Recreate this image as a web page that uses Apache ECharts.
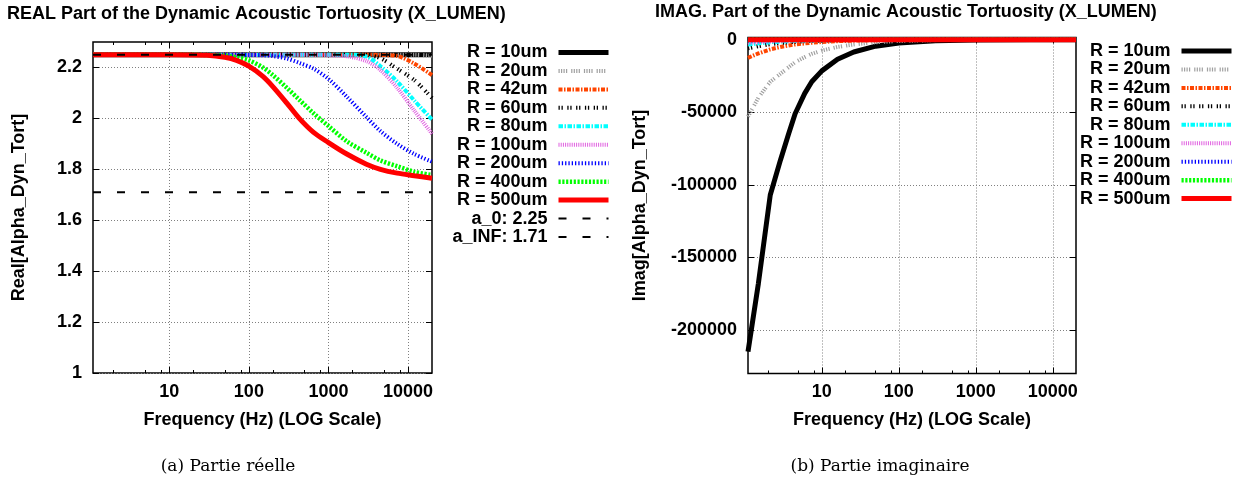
<!DOCTYPE html>
<html>
<head>
<meta charset="utf-8">
<script src="https://cdn.jsdelivr.net/npm/echarts@6/dist/echarts.min.js"></script>
<style>
  html, body { margin: 0; padding: 0; background: #fff; }
  #chart { width: 1245px; height: 484px; }
</style>
</head>
<body>
<div id="chart"></div>
<script>
// ---- data ----
const seriesNames = ["R = 10um", "R = 20um", "R = 42um", "R = 60um", "R = 80um",
  "R = 100um", "R = 200um", "R = 400um", "R = 500um"];

// (a) real part, frequencies in Hz
const realFreq = [1.1, 10, 30, 50, 70, 100, 150, 200, 300, 430, 650, 1000, 1700, 3000, 4500, 7300, 12000, 20000];
const realR10  = [2.25, 2.25, 2.25, 2.25, 2.25, 2.25, 2.25, 2.25, 2.25, 2.25, 2.25, 2.25, 2.25, 2.25, 2.25, 2.25, 2.25, 2.25];
const realR20  = [2.25, 2.25, 2.25, 2.25, 2.25, 2.25, 2.25, 2.25, 2.25, 2.25, 2.25, 2.25, 2.25, 2.25, 2.25, 2.25, 2.25, 2.246];
const realR42  = [2.25, 2.25, 2.25, 2.25, 2.25, 2.25, 2.25, 2.25, 2.25, 2.25, 2.25, 2.25, 2.25, 2.25, 2.249, 2.245, 2.215, 2.17];
const realR60  = [2.25, 2.25, 2.25, 2.25, 2.25, 2.25, 2.25, 2.25, 2.25, 2.25, 2.25, 2.25, 2.25, 2.249, 2.236, 2.195, 2.15, 2.08];
const realR80  = [2.25, 2.25, 2.25, 2.25, 2.25, 2.25, 2.25, 2.25, 2.25, 2.25, 2.25, 2.25, 2.25, 2.243, 2.205, 2.145, 2.07, 1.995];
const realR100 = [2.25, 2.25, 2.25, 2.25, 2.25, 2.25, 2.25, 2.25, 2.25, 2.25, 2.25, 2.248, 2.244, 2.225, 2.19, 2.12, 2.03, 1.94];
const realR200 = [2.25, 2.25, 2.25, 2.25, 2.25, 2.249, 2.248, 2.245, 2.235, 2.218, 2.195, 2.155, 2.085, 2.005, 1.95, 1.9, 1.86, 1.83];
const realR400 = [2.25, 2.25, 2.249, 2.246, 2.24, 2.228, 2.2, 2.17, 2.12, 2.073, 2.02, 1.97, 1.91, 1.865, 1.835, 1.812, 1.79, 1.778];
const realR500 = [2.25, 2.25, 2.248, 2.24, 2.228, 2.205, 2.165, 2.125, 2.06, 2.0, 1.945, 1.905, 1.86, 1.82, 1.8, 1.785, 1.775, 1.765];
const alpha0 = 2.25;
const alphaInf = 1.71;

// (b) imaginary part
const imagFreq = [1.1, 1.5, 2.14, 2.9, 3.7, 4.5, 6, 7.4, 10, 16, 26, 50, 100, 300, 1000, 5000, 20000];
const imagR10  = [-215000, -168000, -107000, -83000, -65000, -51000, -37000, -29000, -21500, -13500, -8500, -4500, -2300, -800, -250, -60, -20];
const imagR20  = [-53000, -40000, -29000, -23500, -19000, -15500, -12000, -9800, -7500, -5000, -3300, -1800, -900, -300, -100, -25, -8];
const imagR42  = [-12500, -9500, -6700, -5000, -4000, -3300, -2600, -2100, -1600, -1000, -650, -330, -160, -55, -18, -4, -1];
const imagR60  = [-6000, -4500, -3100, -2300, -1800, -1500, -1100, -900, -680, -420, -260, -135, -70, -23, -7, -2, -1];
const imagR80  = [-3400, -2550, -1750, -1300, -1020, -840, -630, -510, -380, -240, -150, -75, -38, -13, -4, -1, 0];
const imagR100 = [-2200, -1650, -1150, -850, -660, -540, -410, -330, -245, -155, -95, -50, -25, -8, -3, -1, 0];
const imagR200 = [-550, -410, -290, -210, -165, -135, -100, -82, -61, -38, -24, -12, -6, -2, -1, 0, 0];
const imagR400 = [-140, -103, -72, -53, -41, -34, -26, -20, -15, -10, -6, -3, -2, -1, 0, 0, 0];
const imagR500 = [-90, -66, -46, -34, -26, -22, -16, -13, -10, -6, -4, -2, -1, 0, 0, 0, 0];

// axis ticks
const freqMajor = [10, 100, 1000, 10000];
const freqMinor = [2, 5, 8, 20, 50, 80, 200, 500, 800, 2000, 5000, 8000];
const realTicks = [1, 1.2, 1.4, 1.6, 1.8, 2, 2.2];
const imagTicks = [-200000, -150000, -100000, -50000, 0];

const realVals = [realR10, realR20, realR42, realR60, realR80, realR100, realR200, realR400, realR500];
const imagVals = [imagR10, imagR20, imagR42, imagR60, imagR80, imagR100, imagR200, imagR400, imagR500];

// gnuplot-like line types
const styles = [
  { color: "#000000", width: 5, type: "solid" },
  { color: "#a0a0a0", width: 4, type: [1.2, 1.3, 1.2, 1.3, 1.2, 1.3, 1.2, 4] },
  { color: "#ff4500", width: 4, type: [4, 1.5, 1.5, 1.5] },
  { color: "#000000", width: 4, type: [1.3, 1.7, 1.3, 4.5] },
  { color: "#00ffff", width: 4, type: [4.5, 1.5, 1.5, 1.5] },
  { color: "#e060e0", width: 4, type: [1, 1.2] },
  { color: "#0000ff", width: 4, type: [1.3, 2] },
  { color: "#00ff00", width: 4.5, type: [2.2, 1.6] },
  { color: "#ff0000", width: 5, type: "solid" },
];
const refStyle = { color: "#000000", width: 2, type: [8, 16] };

const FONT = '"Liberation Sans", Arial, sans-serif';
const txt = { fontFamily: FONT, fontWeight: "bold", fontSize: 18, color: "#000" };
const capStyle = { fontFamily: '"DejaVu Serif", serif', fontSize: 17, fontWeight: "normal", color: "#000" };
const FMIN = 1.1, FMAX = 20000;

function line(name, freq, vals, st, xi, yi, smooth) {
  return {
    type: "line", name, xAxisIndex: xi, yAxisIndex: yi,
    data: freq.map((f, i) => [f, vals[i]]),
    symbol: "none", smooth: smooth,
    lineStyle: { color: st.color, width: st.width, type: st.type },
    itemStyle: { color: st.color },
    emphasis: { disabled: true },
  };
}

function freqAxis(grid, pos, kind) {
  const ax = {
    type: "log", logBase: 10, gridIndex: grid, position: pos, min: FMIN, max: FMAX,
    axisLine: { show: false, onZero: false },
    axisLabel: { show: false },
    splitLine: { show: false },
    axisTick: { show: true, inside: true, length: kind === "major" ? 6 : 3,
      customValues: kind === "major" ? freqMajor : freqMinor,
      lineStyle: { color: "#000", width: 1 } },
  };
  if (kind === "major" && pos === "bottom") {
    ax.axisLabel = { show: true, customValues: freqMajor, margin: 10,
      formatter: v => String(Math.round(v)), ...txt };
    ax.splitLine = { show: true, lineStyle: { color: "#808080", width: 1, type: [1, 2] } };
    ax.name = "Frequency (Hz) (LOG Scale)";
    ax.nameLocation = "middle";
    ax.nameGap = 38;
    ax.nameTextStyle = txt;
  }
  return ax;
}

function valAxis(grid, pos, min, max, ticks, name) {
  const ax = {
    type: "value", gridIndex: grid, position: pos, min, max,
    axisLine: { show: false, onZero: false },
    axisLabel: { show: false },
    splitLine: { show: false },
    axisTick: { show: true, inside: true, length: 6, customValues: ticks,
      lineStyle: { color: "#000", width: 1 } },
  };
  if (pos === "left") {
    ax.axisLabel = { show: true, customValues: ticks, margin: 11,
      formatter: v => String(v), ...txt };
    ax.splitLine = { show: true, lineStyle: { color: "#808080", width: 1, type: [1, 2] } };
    ax.name = name;
    ax.nameLocation = "middle";
    ax.nameGap = grid === 0 ? 65 : 99;
    ax.nameTextStyle = txt;
  }
  return ax;
}

const series = [];
seriesNames.forEach((n, i) => series.push(line(n, realFreq, realVals[i], styles[i], 0, 0, 0.3)));
series.push(line("a_0: 2.25", [FMIN, FMAX], [alpha0, alpha0], refStyle, 0, 0, false));
series.push(line("a_INF: 1.71", [FMIN, FMAX], [alphaInf, alphaInf], refStyle, 0, 0, false));
seriesNames.forEach((n, i) => series.push(line(n, imagFreq, imagVals[i], styles[i], 4, 2, false)));

const legendBase = {
  orient: "vertical", align: "right", padding: 0,
  itemWidth: 50, itemHeight: 10, itemGap: 0.45,
  textStyle: { ...txt, lineHeight: 18, padding: [0, 6, 0, 0] },
  lineStyle: { width: "inherit" },
  itemStyle: { opacity: 0 },
  selectedMode: false,
};

const chart = echarts.init(document.getElementById("chart"), null, { renderer: "canvas" });
chart.setOption({
  animation: false,
  backgroundColor: "#fff",
  title: [
    { text: "REAL Part of the Dynamic Acoustic Tortuosity (X_LUMEN)", left: 7, top: 5, padding: 0, textStyle: txt },
    { text: "IMAG. Part of the Dynamic Acoustic Tortuosity (X_LUMEN)", left: 655, top: 3, padding: 0, textStyle: txt },
    { text: "(a) Partie réelle", left: 228, top: 458, padding: 0, textAlign: "center", textStyle: capStyle },
    { text: "(b) Partie imaginaire", left: 880, top: 458, padding: 0, textAlign: "center", textStyle: capStyle },
  ],
  legend: [
    { ...legendBase, data: [...seriesNames, "a_0: 2.25", "a_INF: 1.71"], right: 634, top: 43.5 },
    { ...legendBase, data: seriesNames, right: 11, top: 42 },
  ],
  grid: [
    { left: 93, top: 42, width: 339, height: 331, show: true, borderColor: "#000", borderWidth: 1.5, backgroundColor: "transparent" },
    { left: 748, top: 37.5, width: 328, height: 336, show: true, borderColor: "#000", borderWidth: 1.5, backgroundColor: "transparent" },
  ],
  xAxis: [
    freqAxis(0, "bottom", "major"), freqAxis(0, "bottom", "minor"),
    freqAxis(0, "top", "major"), freqAxis(0, "top", "minor"),
    freqAxis(1, "bottom", "major"), freqAxis(1, "bottom", "minor"),
    freqAxis(1, "top", "major"), freqAxis(1, "top", "minor"),
  ],
  yAxis: [
    valAxis(0, "left", 1, 2.3, realTicks, "Real[Alpha_Dyn_Tort]"),
    valAxis(0, "right", 1, 2.3, realTicks),
    valAxis(1, "left", -230000, 1500, imagTicks, "Imag[Alpha_Dyn_Tort]"),
    valAxis(1, "right", -230000, 1500, imagTicks),
  ],
  series,
});
</script>
</body>
</html>
